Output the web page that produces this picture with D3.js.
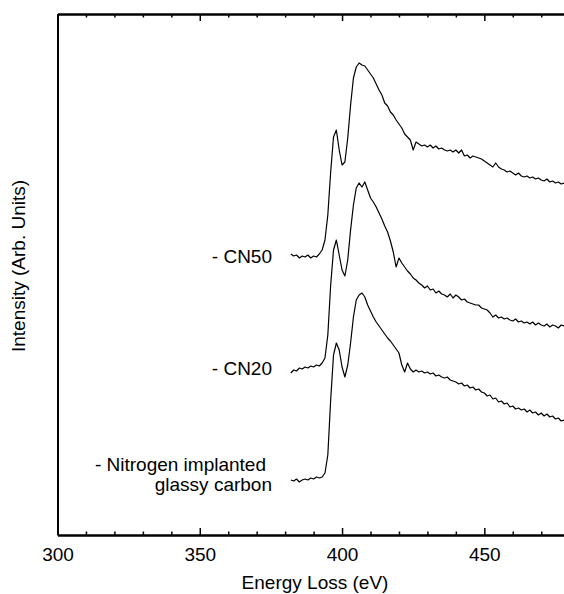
<!DOCTYPE html>
<html lang="en"><head><meta charset="utf-8">
<title>EELS N K-edge</title>
<script src="https://cdn.jsdelivr.net/npm/d3@7"></script>
<style>
  body { margin: 0; background: #fff; }
  text { font-family: "Liberation Sans", Arial, Helvetica, sans-serif; fill: #000; }
</style>
</head>
<body>
<script>
// energy loss (eV) at 1 eV steps
var energy = [382,383,384,385,386,387,388,389,
  390,391,392,393,394,395,396,397,398,399,
  400,401,402,403,404,405,406,407,408,409,
  410,411,412,413,414,415,416,417,418,419,
  420,421,422,423,424,425,426,427,428,429,
  430,431,432,433,434,435,436,437,438,439,
  440,441,442,443,444,445,446,447,448,449,
  450,451,452,453,454,455,456,457,458,459,
  460,461,462,463,464,465,466,467,468,469,
  470,471,472,473,474,475,476,477,478];

// intensities (arb. units), curves already offset as stacked in the figure
var cn50 = [281,279,280,277,279,278,280,277,
  279,278,281,285,295,320,363,398,405,385,
  370,373,397,430,457,468,472,470,469,465,
  461,457,451,445,440,432,429,423,420,415,
  411,407,401,398,395,385,393,391,389,390,
  388,390,387,389,386,387,385,384,385,383,
  385,382,385,379,380,377,379,378,377,376,
  374,372,370,368,372,368,366,365,363,364,
  362,360,362,359,358,359,357,358,356,357,
  355,354,356,353,354,352,353,351,352];

var cn20 = [162,165,164,167,166,168,167,169,
  168,170,169,172,177,200,250,285,295,280,
  265,259,275,305,330,347,352,348,353,345,
  337,333,328,322,316,309,303,294,283,268,
  277,272,268,264,261,257,255,252,250,247,
  249,245,246,242,244,241,240,238,241,237,
  240,238,235,236,233,232,231,230,230,227,
  226,225,222,218,220,217,218,216,217,215,
  214,216,213,214,212,213,211,213,210,212,
  210,209,211,208,210,209,207,210,209];

var glassy = [55,54,56,53,55,56,55,57,
  56,58,57,58,62,80,135,180,192,185,
  168,158,170,192,218,235,240,242,238,230,
  224,218,213,209,205,201,197,194,190,186,
  182,170,163,172,166,163,165,163,164,162,
  163,161,162,159,160,158,157,158,155,154,
  153,151,152,149,150,147,148,145,146,143,
  142,139,140,136,137,133,134,131,132,128,
  129,126,127,125,126,123,125,122,123,120,
  122,119,121,118,119,116,117,114,115];

var series = [cn50, cn20, glassy];
var majorTicks = [300, 350, 400, 450];
var minorTicks = [310,320,330,340,360,370,380,390,410,420,430,440,460,470];

var width = 564;
var height = 594;
// plot box (note: "top" is reserved on window, so use m* names)
var mLeft = 57.5, mRight = 564, mTop = 14, mBottom = 535;

var svg = d3.select("body").append("svg")
  .attr("width", width)
  .attr("height", height);

var x = d3.scaleLinear().domain([300, 478]).range([mLeft, mRight]);
var y = d3.scaleLinear().domain([0, 521]).range([mBottom, mTop]);

// spectra
var line = d3.line()
  .x(function (d, i) { return x(energy[i]); })
  .y(function (d) { return y(d); });

svg.selectAll(".spectrum")
  .data(series)
  .enter().append("path")
  .attr("class", "spectrum")
  .attr("fill", "none")
  .attr("stroke", "#000")
  .attr("stroke-width", 1.2)
  .attr("stroke-linejoin", "round")
  .attr("d", line);

// axes
function styleAxis(g) {
  g.select(".domain").attr("stroke", "#000").attr("stroke-width", 2);
  g.selectAll(".tick line").attr("stroke", "#000").attr("stroke-width", 1.5);
  g.selectAll("text").attr("font-size", 19).attr("fill", "#000")
    .attr("font-family", "Liberation Sans, Arial, sans-serif");
}

svg.append("g")
  .attr("transform", "translate(0," + mBottom + ")")
  .call(d3.axisBottom(x).tickValues(minorTicks).tickSize(-3.5).tickSizeOuter(0).tickFormat(""))
  .call(styleAxis);

svg.append("g")
  .attr("transform", "translate(0," + mBottom + ")")
  .call(d3.axisBottom(x).tickValues(majorTicks).tickSize(-7).tickSizeOuter(0).tickPadding(13))
  .call(styleAxis);

svg.append("g")
  .attr("transform", "translate(0," + mTop + ")")
  .call(d3.axisTop(x).tickValues(minorTicks).tickSize(-3.5).tickSizeOuter(0).tickFormat(""))
  .call(styleAxis);

svg.append("g")
  .attr("transform", "translate(0," + mTop + ")")
  .call(d3.axisTop(x).tickValues(majorTicks).tickSize(-7).tickSizeOuter(0).tickFormat(""))
  .call(styleAxis);

svg.append("g")
  .attr("transform", "translate(" + mLeft + ",0)")
  .call(d3.axisLeft(y).tickValues([]).tickSizeOuter(0))
  .call(styleAxis);

// axis titles
svg.append("text")
  .attr("text-anchor", "middle")
  .attr("font-size", 19)
  .attr("x", 315)
  .attr("y", 589)
  .text("Energy Loss (eV)");

svg.append("text")
  .attr("text-anchor", "middle")
  .attr("font-size", 19)
  .attr("transform", "translate(25,266) rotate(-90)")
  .text("Intensity (Arb. Units)");

// curve labels
var labels = [
  { text: "- CN50", x: 272, y: 263 },
  { text: "- CN20", x: 272, y: 375 },
  { text: "- Nitrogen implanted", x: 266, y: 471 },
  { text: "glassy carbon", x: 272, y: 491 }
];
svg.selectAll(".label")
  .data(labels)
  .enter().append("text")
  .attr("class", "label")
  .attr("text-anchor", "end")
  .attr("font-size", 19)
  .attr("x", function (d) { return d.x; })
  .attr("y", function (d) { return d.y; })
  .text(function (d) { return d.text; });
</script>
</body></html>
